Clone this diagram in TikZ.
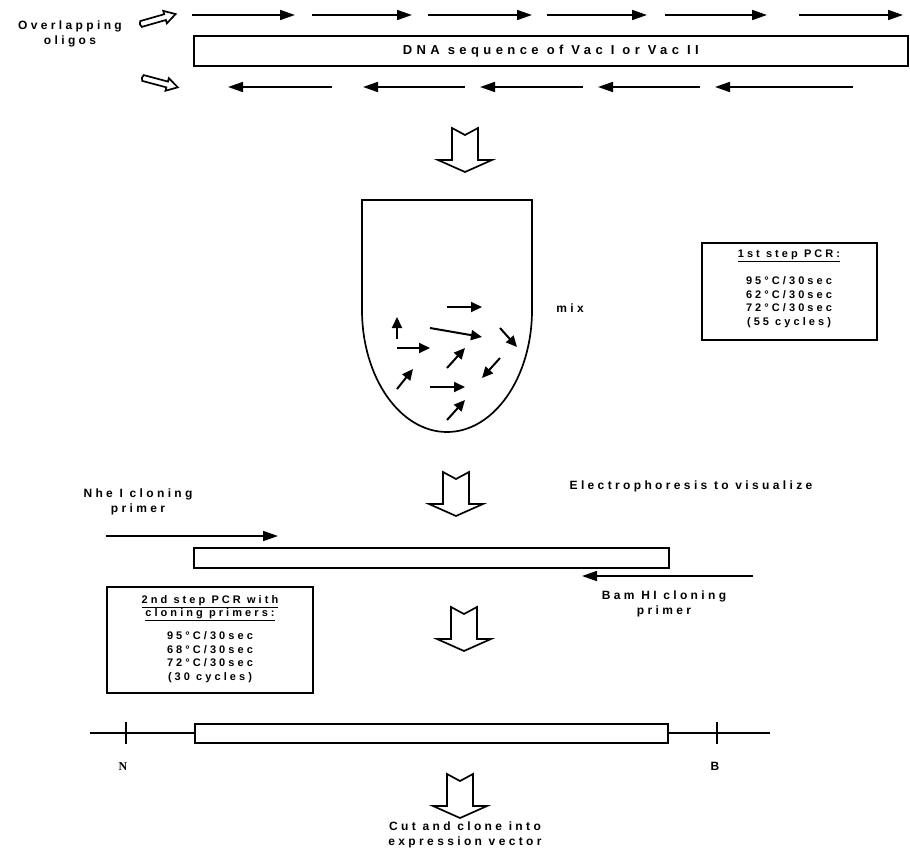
\documentclass[tikz,border=0pt]{standalone}
\usepackage{fontspec}
\setmainfont{Liberation Sans}
\newfontfamily\lsf[LetterSpace=28]{Liberation Sans}
\newfontfamily\lsfw[LetterSpace=34]{Liberation Sans}
\newfontfamily\nserif{Liberation Serif}
\usetikzlibrary{arrows.meta}
\tikzset{
  lbl/.style={inner sep=0pt, align=center, font=\fontsize{12}{15}\selectfont\lsf\bfseries},
  boxtxt/.style={inner sep=0pt, align=center, font=\fontsize{11}{13.5}\selectfont\lsf\bfseries},
  bar/.style={draw, line width=1.6pt, fill=white, inner sep=0pt},
  frame/.style={line width=1.7pt},
  strand/.style={line width=1.7pt, -{Triangle[length=15pt,width=10pt]}},
  tarrow/.style={line width=2pt, -{Triangle[length=11pt,width=10pt]}},
  hollow/.style={draw, line width=1.7pt, fill=white, line join=miter},
  pics/dnarrow/.style={code={
    \draw[hollow] (-13,0) -- (0,7) -- (13,0) -- (13,32) -- (27,32) -- (0,44) -- (-27,32) -- (-13,32) -- cycle;}},
  pics/smallarrow/.style={code={
    \draw[hollow] (0,-3) -- (25,-3) -- (25,-6.5) -- (36,0) -- (25,6.5) -- (25,3) -- (0,3) to[bend left=40] cycle;}}
}
\begin{document}
\begin{tikzpicture}[x=1pt,y=-1pt]
\useasboundingbox (0,0) rectangle (910,854);

% ---- top: overlapping oligos ----
\node[lbl] (olabel) at (70,34) {Overlapping\\oligos};
\pic[rotate=16] at (141,24) {smallarrow};
\pic[rotate=-15] at (143,78) {smallarrow};

\draw[strand] (192,15) -- (295,15);
\draw[strand] (312,15) -- (412,15);
\draw[strand] (428,15) -- (532,15);
\draw[strand] (547,15) -- (647,15);
\draw[strand] (665,15) -- (767,15);
\draw[strand] (799,15) -- (903,15);

\node[bar, anchor=north west, minimum width=714pt, minimum height=30pt,
      font=\fontsize{13}{15}\selectfont\lsfw\bfseries] (dna) at (193,35)
      {DNA sequence of Vac I or Vac II};

\draw[strand] (332,87) -- (228,87);
\draw[strand] (465,87) -- (363,87);
\draw[strand] (583,87) -- (480,87);
\draw[strand] (700,87) -- (598,87);
\draw[strand] (853,87) -- (715,87);

% ---- arrow 1 and tube ----
\pic at (465,128) {dnarrow};

\draw[frame] (362,200) -- (532,200) -- (532,310)
  arc[start angle=0, end angle=180, x radius=85, y radius=122] -- cycle;

\draw[tarrow] (397,339) -- (397,317);
\draw[tarrow] (447,307) -- (482,307);
\draw[tarrow] (430,328) -- (482,337);
\draw[tarrow] (500,328) -- (517,347);
\draw[tarrow] (397,348) -- (430,348);
\draw[tarrow] (447,368) -- (465,348);
\draw[tarrow] (500,358) -- (482,378);
\draw[tarrow] (397,389) -- (413,369);
\draw[tarrow] (430,387) -- (465,387);
\draw[tarrow] (447,420) -- (465,400);

\node[lbl] (mix) at (570,308) {mix};

% ---- box 1 ----
\draw[frame] (702,243) rectangle (877,340);
\node[boxtxt] (t1) at (789,256) {\underline{1st step PCR:}};
\node[boxtxt] (b1) at (789,302) {95°C/30sec\\62°C/30sec\\72°C/30sec\\(55 cycles)};

% ---- arrow 2, primers ----
\pic at (456,472) {dnarrow};
\node[lbl] (elec) at (691,486) {Electrophoresis to visualize};

\node[lbl] (nhe) at (138,502) {Nhe I cloning\\primer};
\draw[strand] (106,536) -- (278,536);
\node[bar, anchor=north west, minimum width=475pt, minimum height=20pt] (mid) at (193,547) {};
\draw[strand] (753,576) -- (582,576);
\node[lbl] (bam) at (664,604) {Bam HI cloning\\primer};

% ---- box 2 ----
\draw[frame] (107,587) rectangle (313,693);
\node[boxtxt] (t2) at (210,608) {\underline{2nd step PCR with}\\\underline{cloning primers:}};
\node[boxtxt] (b2) at (210,657) {95°C/30sec\\68°C/30sec\\72°C/30sec\\(30 cycles)};

\pic at (464,607) {dnarrow};

% ---- bottom construct ----
\draw[frame] (90,733) -- (770,733);
\node[bar, anchor=north west, minimum width=473pt, minimum height=19pt] (final) at (194,723) {};
\draw[frame] (126,722) -- (126,744);
\draw[frame] (717,722) -- (717,744);
\node[inner sep=0pt, font=\fontsize{12}{14}\selectfont\nserif\bfseries] (nsite) at (123,767) {N};
\node[inner sep=0pt, font=\fontsize{12}{14}\selectfont\bfseries] (bsite) at (715,766) {B};

\pic at (460,774) {dnarrow};
\node[lbl] (cut) at (465,835) {Cut and clone into\\expression vector};
\end{tikzpicture}
\end{document}
